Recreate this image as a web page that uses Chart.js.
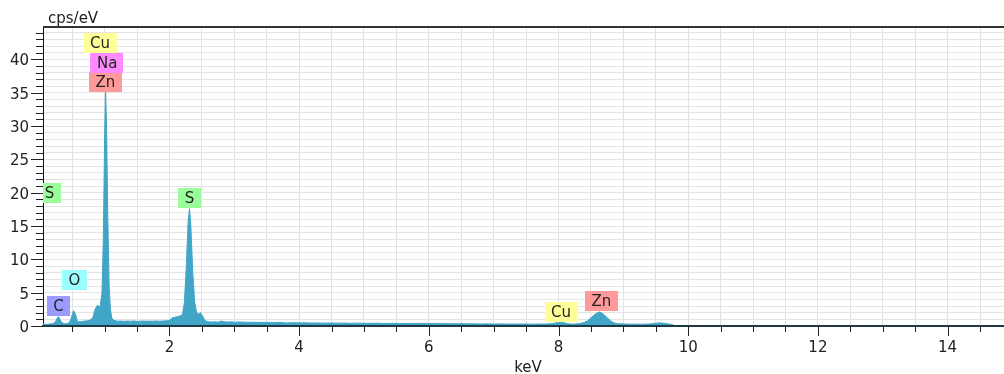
<!DOCTYPE html>
<html>
<head>
<meta charset="utf-8">
<script src="https://cdn.jsdelivr.net/npm/chart.js@4.4.1/dist/chart.umd.min.js"></script>
<style>
    html, body { margin: 0; padding: 0; background: #fff; }
    #wrap { width: 1004px; height: 374px; }
</style>
</head>
<body>
<div id="wrap"><canvas id="spectrum" width="1004" height="374"></canvas></div>
<script>
// spectrum (keV / cps per eV)
const energyKeV = [
    0.05, 0.10, 0.15, 0.20, 0.24, 0.27, 0.29, 0.31, 0.34, 0.38,
    0.42, 0.46, 0.49, 0.52, 0.55, 0.58, 0.62, 0.66, 0.70, 0.74,
    0.78, 0.82, 0.85, 0.88, 0.90, 0.93, 0.96, 0.98, 1.00, 1.015,
    1.03, 1.05, 1.07, 1.09, 1.11, 1.14, 1.20, 1.25, 1.30, 1.35,
    1.40, 1.45, 1.50, 1.55, 1.60, 1.65, 1.70, 1.75, 1.80, 1.85,
    1.90, 1.95, 2.00, 2.04, 2.08, 2.12, 2.16, 2.20, 2.23, 2.26,
    2.29, 2.31, 2.33, 2.36, 2.39, 2.42, 2.45, 2.48, 2.51, 2.55,
    2.60, 2.65, 2.70, 2.75, 2.80, 2.85, 2.90, 2.95, 3.00, 3.10,
    3.20, 3.30, 3.40, 3.50, 3.60, 3.70, 3.80, 3.90, 4.00, 4.10,
    4.20, 4.30, 4.40, 4.50, 4.60, 4.70, 4.80, 4.90, 5.00, 5.10,
    5.20, 5.30, 5.40, 5.50, 5.60, 5.70, 5.80, 5.90, 6.00, 6.10,
    6.20, 6.30, 6.40, 6.50, 6.60, 6.70, 6.80, 6.90, 7.00, 7.10,
    7.20, 7.30, 7.40, 7.50, 7.60, 7.70, 7.80, 7.90, 7.95, 8.00,
    8.05, 8.10, 8.15, 8.20, 8.25, 8.30, 8.35, 8.40, 8.45, 8.50,
    8.55, 8.60, 8.63, 8.66, 8.70, 8.75, 8.80, 8.85, 8.90, 9.00,
    9.10, 9.20, 9.30, 9.40, 9.45, 9.50, 9.55, 9.60, 9.65, 9.70,
    9.75, 9.78, 9.80
];
const countsCps = [
    0.30, 0.25, 0.30, 0.35, 0.60, 1.20, 1.40, 1.00, 0.50, 0.35,
    0.35, 0.55, 1.30, 2.30, 1.80, 0.70, 0.60, 0.70, 0.75, 0.80,
    0.90, 1.30, 2.40, 3.00, 3.10, 2.80, 5.00, 13.0, 28.0, 35.5,
    30.0, 16.0, 6.00, 2.50, 1.20, 0.85, 0.72, 0.75, 0.70, 0.74,
    0.72, 0.76, 0.70, 0.73, 0.75, 0.71, 0.74, 0.72, 0.76, 0.73,
    0.75, 0.78, 0.85, 1.20, 1.30, 1.40, 1.50, 1.70, 3.50, 9.00,
    16.0, 17.6, 15.0, 8.00, 3.50, 2.00, 1.80, 2.00, 1.50, 0.80,
    0.62, 0.60, 0.62, 0.58, 0.75, 0.62, 0.60, 0.63, 0.58, 0.60,
    0.55, 0.57, 0.53, 0.55, 0.50, 0.55, 0.45, 0.50, 0.47, 0.48,
    0.44, 0.46, 0.43, 0.45, 0.42, 0.44, 0.40, 0.43, 0.41, 0.40,
    0.42, 0.38, 0.40, 0.39, 0.37, 0.39, 0.36, 0.37, 0.35, 0.36,
    0.34, 0.35, 0.33, 0.34, 0.32, 0.33, 0.31, 0.32, 0.30, 0.31,
    0.29, 0.30, 0.29, 0.30, 0.28, 0.29, 0.30, 0.35, 0.45, 0.52,
    0.55, 0.45, 0.33, 0.30, 0.30, 0.32, 0.40, 0.55, 0.80, 1.20,
    1.65, 2.00, 2.10, 2.00, 1.70, 1.25, 0.80, 0.50, 0.35, 0.30,
    0.28, 0.27, 0.27, 0.30, 0.35, 0.42, 0.46, 0.45, 0.38, 0.30,
    0.22, 0.10, 0.00
];

// element line markers
const peakElements = ['S', 'C', 'O', 'Cu', 'Zn', 'Na', 'S', 'Cu', 'Zn'];
const peakEnergies = [0.15, 0.29, 0.535, 0.93, 1.012, 1.04, 2.31, 8.04, 8.66];
const peakLabelCps = [19.95, 3.0, 6.9, 42.45, 36.6, 39.45, 19.2, 2.15, 3.75];

const xTickLabels = [2, 4, 6, 8, 10, 12, 14];
const yTickLabels = [0, 5, 10, 15, 20, 25, 30, 35, 40];

const elementColors = {
    C: '#9a9aff', O: '#9affff', Na: '#ff8aff', S: '#9aff9a', Cu: '#ffff9a', Zn: '#ff9a9a'
};

const FONT = '15px "DejaVu Sans", Verdana, sans-serif';
const INK = '#222';

const xGrid = [];
for (let v = 0.5; v < 14.9; v += 0.5) xGrid.push(v);
const yGrid = [];
for (let v = 0; v <= 44; v++) yGrid.push(v);

const points = energyKeV.map((e, i) => ({ x: e, y: countsCps[i] }));

const decorPlugin = {
    id: 'decor',
    afterDatasetsDraw(chart) {
        const { ctx, chartArea: a, scales: { x, y } } = chart;
        ctx.save();
        ctx.beginPath();
        ctx.rect(a.left, a.top, a.right - a.left, a.bottom - a.top);
        ctx.clip();
        ctx.font = FONT;
        ctx.textAlign = 'center';
        ctx.textBaseline = 'middle';
        peakElements.forEach((el, i) => {
            const cx = x.getPixelForValue(peakEnergies[i]);
            const cy = y.getPixelForValue(peakLabelCps[i]);
            const w = ctx.measureText(el).width + 13;
            ctx.fillStyle = elementColors[el];
            ctx.fillRect(Math.round(cx - w / 2), Math.round(cy - 10), Math.round(w), 20);
            ctx.fillStyle = INK;
            ctx.fillText(el, cx, cy + 1);
        });
        ctx.restore();
    },
    afterDraw(chart) {
        const { ctx, chartArea: a, scales: { x, y } } = chart;
        ctx.save();
        // top frame line
        ctx.strokeStyle = '#333';
        ctx.lineWidth = 2;
        ctx.beginPath();
        ctx.moveTo(a.left, a.top);
        ctx.lineTo(a.right, a.top);
        ctx.stroke();

        // tick marks
        ctx.strokeStyle = INK;
        ctx.lineWidth = 1;
        ctx.beginPath();
        yGrid.forEach(v => {
            const py = Math.round(y.getPixelForValue(v)) + 0.5;
            const len = v % 5 === 0 ? 12 : 7;
            ctx.moveTo(a.left - len, py);
            ctx.lineTo(a.left, py);
        });
        xGrid.forEach(v => {
            const px = Math.round(x.getPixelForValue(v)) + 0.5;
            const len = v % 2 === 0 ? 10 : 6;
            ctx.moveTo(px, a.bottom);
            ctx.lineTo(px, a.bottom + len);
        });
        ctx.stroke();

        // axis titles
        ctx.font = FONT;
        ctx.fillStyle = INK;
        ctx.textBaseline = 'alphabetic';
        ctx.textAlign = 'left';
        ctx.fillText('cps/eV', 48, 22.5);
        ctx.textAlign = 'center';
        ctx.fillText('keV', 528, 371.5);
        ctx.restore();
    }
};

new Chart(document.getElementById('spectrum'), {
    type: 'line',
    data: {
        datasets: [{
            data: points,
            borderColor: '#41a5c7',
            backgroundColor: '#41a5c7',
            borderWidth: 1,
            pointRadius: 0,
            tension: 0,
            fill: 'origin'
        }]
    },
    options: {
        responsive: false,
        devicePixelRatio: 1,
        animation: false,
        layout: { padding: { top: 27, right: 0, left: 0, bottom: 0 } },
        plugins: {
            legend: { display: false },
            tooltip: { enabled: false }
        },
        scales: {
            x: {
                type: 'linear',
                min: 0.05,
                max: 14.87,
                afterBuildTicks: scale => { scale.ticks = xGrid.map(v => ({ value: v })); },
                afterFit: scale => { scale.height = 48; },
                ticks: {
                    autoSkip: false,
                    maxRotation: 0,
                    padding: 13,
                    color: INK,
                    font: { family: '"DejaVu Sans", Verdana, sans-serif', size: 15 },
                    callback: v => xTickLabels.includes(v) ? String(v) : ''
                },
                grid: { color: '#e2e2e2', drawTicks: false },
                border: { color: '#1f3a44', width: 2, z: 1 }
            },
            y: {
                min: 0,
                max: 44.85,
                afterBuildTicks: scale => { scale.ticks = yGrid.map(v => ({ value: v })); },
                afterFit: scale => { scale.width = 43; },
                ticks: {
                    autoSkip: false,
                    padding: 14,
                    labelOffset: 2,
                    color: INK,
                    font: { family: '"DejaVu Sans", Verdana, sans-serif', size: 15 },
                    callback: v => yTickLabels.includes(v) ? String(v) : ''
                },
                grid: { color: '#e4e4e4', drawTicks: false },
                border: { color: '#111', width: 1 }
            }
        }
    },
    plugins: [decorPlugin]
});
</script>
</body>
</html>
